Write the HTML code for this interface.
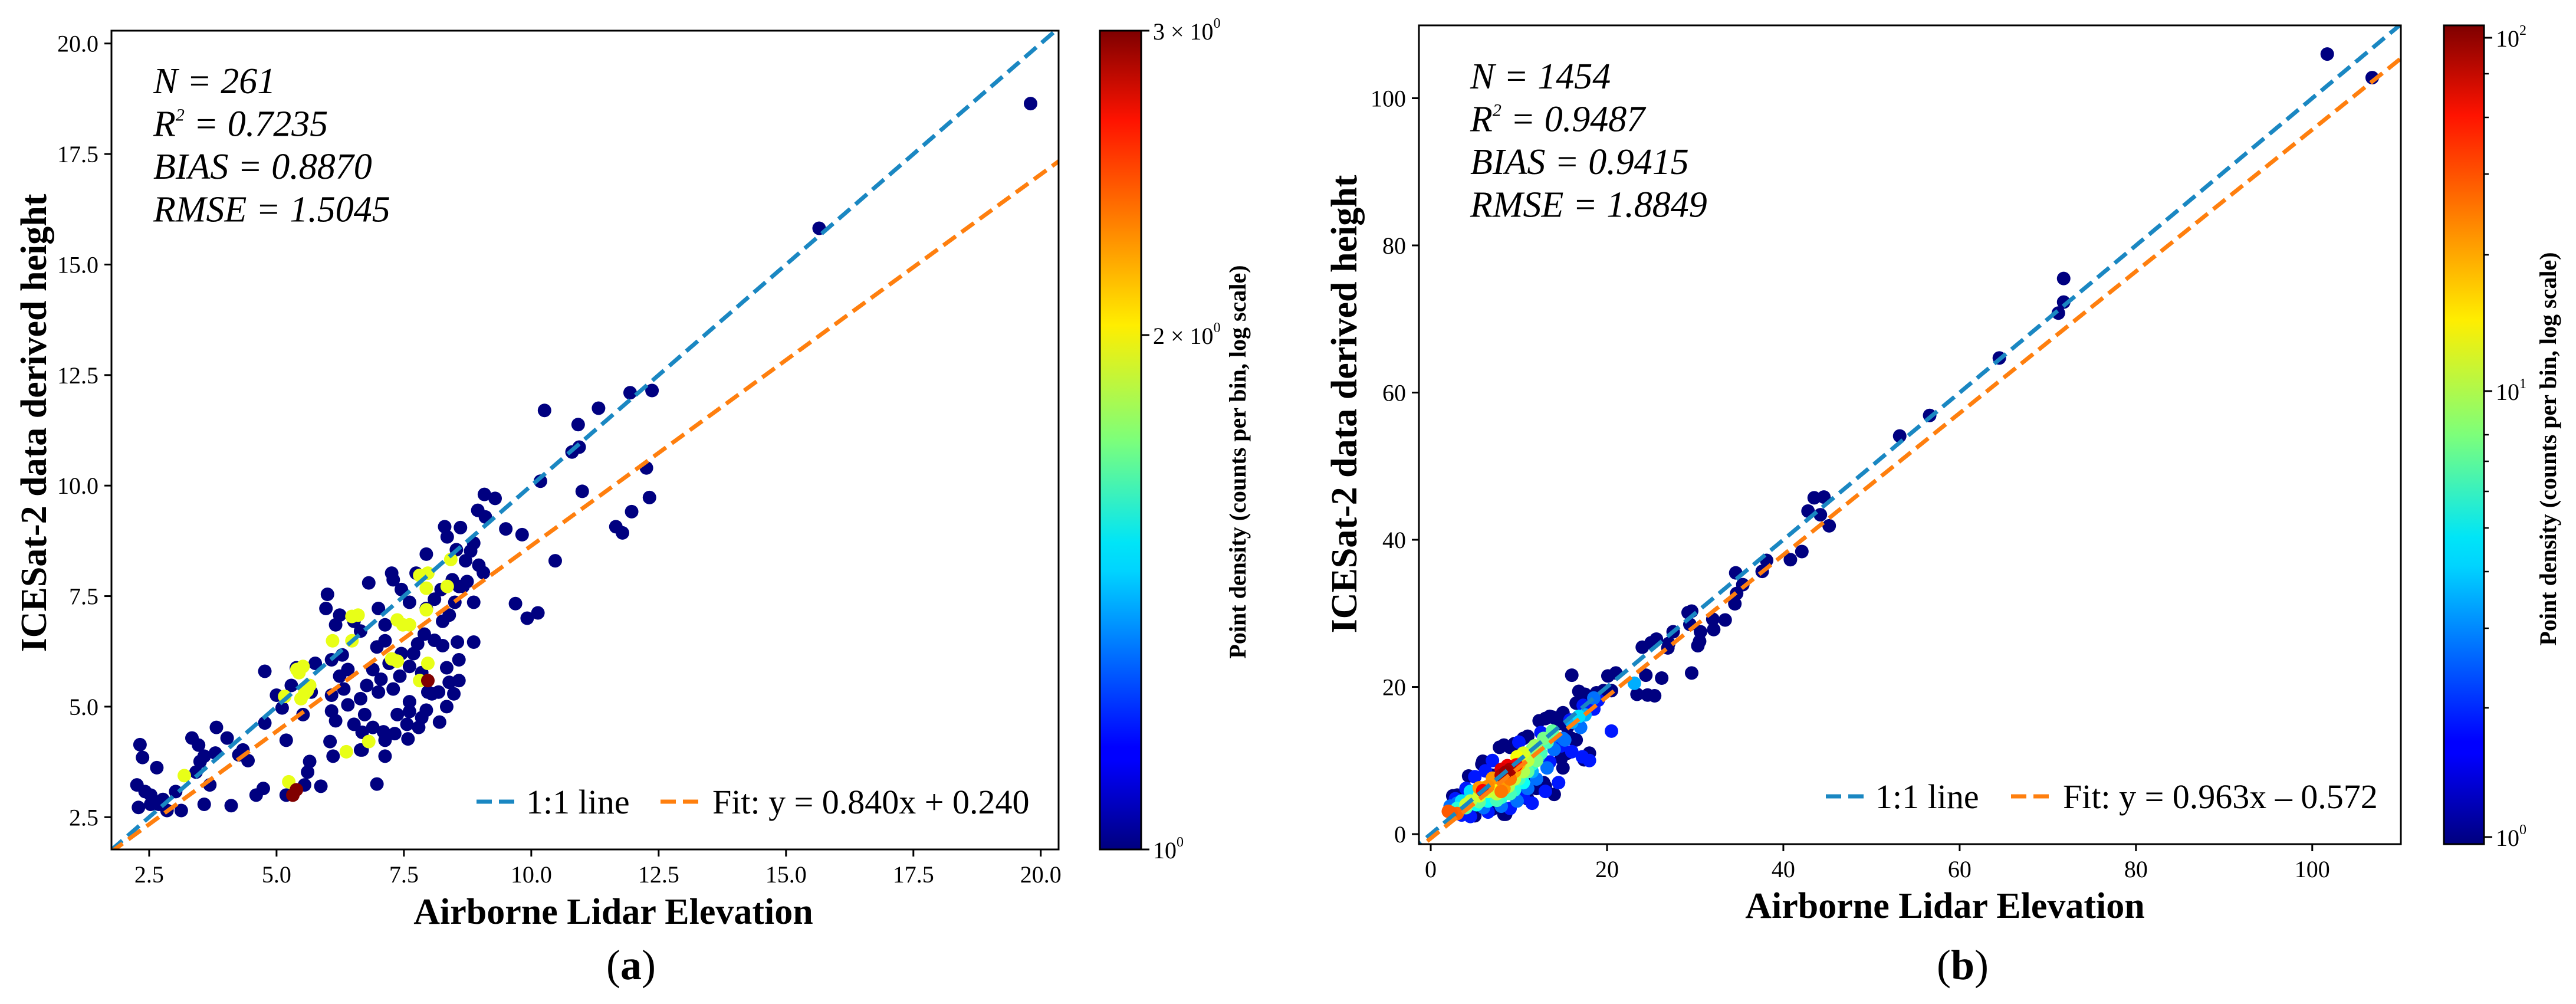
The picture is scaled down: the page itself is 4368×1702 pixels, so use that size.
<!DOCTYPE html>
<html><head><meta charset="utf-8">
<style>
html,body{margin:0;padding:0;background:#fff;width:4368px;height:1702px;overflow:hidden;}
svg{display:block;position:absolute;left:0;top:0;}
text{font-family:"Liberation Serif",serif;fill:#000;}
</style></head>
<body>
<svg id="fig" width="4368" height="1702" viewBox="0 0 4368 1702" xmlns="http://www.w3.org/2000/svg">
<defs>
<linearGradient id="jet" x1="0" y1="1" x2="0" y2="0">
<stop offset="0" stop-color="#00007f"/><stop offset="0.11" stop-color="#0000ff"/><stop offset="0.125" stop-color="#0000ff"/>
<stop offset="0.34" stop-color="#00d4ff"/><stop offset="0.375" stop-color="#00e5f7"/><stop offset="0.5" stop-color="#7dff7a"/>
<stop offset="0.64" stop-color="#ffee00"/><stop offset="0.89" stop-color="#ff1300"/><stop offset="1" stop-color="#7f0000"/>
</linearGradient>
<clipPath id="clipA"><rect x="189" y="52" width="1606" height="1388"/></clipPath>
<clipPath id="clipB"><rect x="2406" y="43" width="1665" height="1388"/></clipPath>
</defs>
</svg>
<script>
// ---- Panel (a) data ----
const aX=[19.8,15.65,12.37,11.94,11.32,10.26,10.92,10.94,10.8,10.18,11.0,12.26,12.32,11.97,11.66,11.79,10.47,9.92,10.13,9.69,9.82,9.5,9.08,9.29,8.95,9.1,8.87,8.3,8.35,8.61,8.71,8.97,9.06,8.74,8.87,8.87,8.55,8.26,8.58,8.34,8.58,8.39,8.48,8.05,8.34,8.2,7.94,7.61,7.56,7.79,7.58,7.32,7.1,6.68,7.13,6.68,6.11,6.05,5.65,5.61,5.55,5.87,5.19,5.19,4.77,4.77,4.74,4.6,4.11,3.58,3.13,3.82,3.34,3.47,3.58,3.8,4.03,4.34,4.44,4.26,3.69,3.42,3.5,2.65,2.32,2.37,2.26,2.42,2.29,2.53,2.69,2.85,2.53,2.77,3.02,6.97,5.39,5.0,5.29,5.11,5.52,5.68,5.76,6.08,6.08,6.16,6.32,6.4,6.52,6.73,6.4,6.29,6.08,6.24,6.65,6.77,6.89,7.0,7.05,7.21,7.29,7.42,7.61,7.69,7.85,7.9,7.77,8.1,7.97,8.18,7.45,7.13,6.97,6.65,6.52,6.24,6.16,5.97,6.0,6.81,7.0,7.13,7.29,7.26,7.45,7.61,7.94,8.1,8.23,8.45,8.66,8.26,8.39,7.94,7.74,8.53,8.81,8.5,8.58,6.65,7.13,6.89,7.37,7.61,7.85,
8.42,7.81,7.97,7.94,8.35,7.94,7.37,7.48,7.61,6.6,6.48,6.1,6.48,7.26,7.37,7.97,7.81,5.4,5.52,5.44,5.65,5.6,5.16,5.48,5.55,6.81,6.37,5.24,3.19,
7.97,5.32,5.39];
const aY=[18.64,15.82,12.15,12.1,11.75,11.7,11.38,10.87,10.76,10.1,9.87,10.4,9.73,9.41,9.07,8.93,8.3,7.0,7.12,7.33,8.89,9.02,9.8,9.71,9.44,9.29,8.7,9.07,8.84,9.05,8.3,8.2,8.03,7.83,7.36,6.46,6.46,6.38,6.06,5.88,5.59,5.55,5.29,5.29,5.0,4.65,4.92,5.11,4.6,4.53,4.27,4.39,4.43,4.42,4.24,4.02,3.88,4.21,3.76,3.52,3.23,3.2,3.0,4.24,4.63,5.8,3.15,3.0,2.76,2.79,2.65,4.53,4.29,4.13,3.88,3.95,4.29,4.02,3.78,3.91,3.23,3.52,3.76,3.62,4.14,3.85,3.23,3.08,2.72,2.79,2.79,2.65,3.0,2.9,3.08,3.25,5.88,5.26,5.48,4.97,4.82,5.33,5.98,5.26,4.9,4.68,5.4,5.04,4.6,4.82,5.84,6.17,6.06,5.69,5.18,5.48,5.84,5.33,5.62,5.98,5.4,5.69,5.91,6.2,5.77,6.64,6.42,6.5,5.33,5.33,6.2,6.49,6.35,6.71,6.93,7.07,6.85,7.22,7.54,7.8,7.22,6.85,7.87,8.02,7.65,7.36,7.22,7.43,7.65,7.87,7.72,6.93,7.07,8.45,8.02,8.55,8.52,7.36,7.72,4.02,3.88,4.53,4.82,4.89,4.75,
8.33,7.97,8.02,7.68,7.72,7.19,6.96,6.85,6.85,7.07,7.04,6.49,6.49,6.08,6.03,5.98,5.59,5.84,5.91,5.77,5.48,5.36,5.23,5.18,5.3,4.21,3.98,3.3,3.44,
5.59,3.0,3.12];
const aD=[1,1,1,1,1,1,1,1,1,1,1,1,1,1,1,1,1,1,1,1,1,1,1,1,1,1,1,1,1,1,1,1,1,1,1,1,1,1,1,1,1,1,1,1,1,1,1,1,1,1,1,1,1,1,1,1,1,1,1,1,1,1,1,1,1,1,1,1,1,1,1,1,1,1,1,1,1,1,1,1,1,1,1,1,1,1,1,1,1,1,1,1,1,1,1,1,1,1,1,1,1,1,1,1,1,1,1,1,1,1,1,1,1,1,1,1,1,1,1,1,1,1,1,1,1,1,1,1,1,1,1,1,1,1,1,1,1,1,1,1,1,1,1,1,1,1,1,1,1,1,1,1,1,1,1,1,1,1,1,1,1,1,1,1,1,
2,2,2,2,2,2,2,2,2,2,2,2,2,2,2,2,2,2,2,2,2,2,2,2,2,2,2,2,2,
3,3,3];
const aXTicks=[2.5,5.0,7.5,10.0,12.5,15.0,17.5,20.0];
const aYTicks=[2.5,5.0,7.5,10.0,12.5,15.0,17.5,20.0];
const aFit=[0.840,0.240];
const aStats=["N = 261","= 0.7235","BIAS = 0.8870","RMSE = 1.5045"];

// ---- Panel (b) data ----
const bX=[101.7,106.8,71.8,71.8,71.2,64.5,56.6,53.2,43.5,44.6,42.8,44.2,45.2,42.1,40.8,38.1,37.6,35.4,34.6,34.5,34.7,33.4,32.1,32.0,30.5,29.6,29.2,30.3,29.6,29.4,30.6,27.5,27.0,26.9,25.6,25.0,24.0,26.2,24.4,23.4,24.6,25.4,21.0,20.1,20.5,19.6,18.8,16.0,17.5,16.8,16.5,15.0,14.4,13.5,18.0,17.4,14.0,8.3,7.0,11.5,
2.5,3.0,4.3,5.8,5.9,7.8,8.3,9.0,9.5,10.5,11.0,12.3,13.0,13.8,14.5,8.5,7.0,11.0,13.0,14.0,15.0,15.5,14.8,12.8,10.5,5.0,16.5,16.0,15.5,12.0,
2.8,4.0,5.0,6.2,7.0,10.0,12.5,15.8,17.3,18.5,19.0,20.5,18.0,17.2,16.0,14.5,13.0,11.5,10.5,9.0,6.5,4.5,3.5,14.8,13.5,
3.0,2.2,15.0,16.0,17.5,18.5,14.0,13.2,12.0,11.0,9.8,8.0,6.0,13.8,12.2,16.8,17.0,15.2,10.0,11.5,23.1,
3.5,4.5,5.2,6.5,8.0,9.5,10.5,11.5,12.5,13.2,13.8,12.8,11.5,10.0,9.0,7.5,5.5,4.0,11.0,12.0,10.5,11.8,3.0,
4.5,5.5,6.5,7.5,8.8,9.5,10.5,11.0,10.5,9.8,7.0,6.0,4.0,8.5,
2.3,3.0,2.0,8.3,8.0,7.0,9.5,10.0,6.5,5.5,9.0,
5.9,9.7,8.0,8.7,8.5,8.0,9.0];
const bY=[106,102.8,75.5,72.3,70.8,64.7,56.9,54.1,45.7,45.8,43.9,43.4,41.9,38.4,37.3,37.2,35.7,33.9,35.5,31.3,32.7,29.1,27.8,29.2,26.2,30.3,30.1,25.6,21.9,28.5,27.5,27.5,25.9,25.3,26.5,26.0,25.4,21.2,21.6,19.0,18.9,18.8,21.9,21.5,19.5,19.5,19.2,21.6,19.0,19.4,17.8,16.5,15.8,16.0,11.0,10.1,5.4,2.7,8.0,8.0,
5.2,5.3,7.9,9.5,9.9,11.8,12.1,11.8,12.3,13.0,13.3,15.4,15.7,15.9,15.0,2.7,3.4,4.8,6.5,5.4,9.0,11.0,10.3,7.0,5.5,2.5,12.8,13.0,14.5,6.2,
4.8,6.2,7.8,8.6,10.0,12.5,13.8,15.5,17.5,17.0,18.2,14.0,10.0,10.5,11.2,7.0,5.8,4.2,5.0,3.5,3.0,2.4,2.6,12.0,9.8,
4.2,3.8,13.0,15.2,16.2,18.5,11.5,9.0,7.5,6.2,4.5,3.8,3.6,13.2,10.5,16.0,14.5,12.8,8.5,8.5,20.5,
4.5,5.8,4.0,4.5,5.0,6.0,7.0,9.5,11.0,12.5,14.0,13.0,11.5,7.5,5.5,4.6,4.4,3.6,8.5,10.0,9.8,12.0,3.5,
4.5,5.2,5.8,5.5,6.5,7.5,8.5,10.0,11.0,10.5,7.0,6.3,4.0,7.2,
2.9,2.8,3.1,6.2,5.8,7.6,8.5,9.5,6.5,6.3,7.5,
5.9,9.4,8.8,9.3,8.4,8.0,8.8];
const bD=[1,1,1,1,1,1,1,1,1,1,1,1,1,1,1,1,1,1,1,1,1,1,1,1,1,1,1,1,1,1,1,1,1,1,1,1,1,1,1,1,1,1,1,1,1,1,1,1,1,1,1,1,1,1,1,1,1,1,1,1,
1,1,1,1,1,1,1,1,1,1,1,1,1,1,1,1,1,1,1,1,1,1,1,1,1,1,1,1,1,1,
2,2,2,2,2,2,2,2,2,2,2,2,2,2,2,2,2,2,2,2,2,2,2,2,2,
3,3,3,4,4,3,3,3,3,3,3,3,3,3,4,5,3,3,3,4,4,
5,5,6,6,7,7,6,7,8,8,9,10,10,8,8,8,9,9,9,10,11,12,7,
14,15,15,14,13,14,13,14,16,18,18,16,15,16,
40,38,40,30,35,30,28,25,32,30,35,
60,60,70,65,95,85,90];
const bXTicks=[0,20,40,60,80,100];
const bYTicks=[0,20,40,60,80,100];
const bFit=[0.963,-0.572];
const bStats=["N = 1454","= 0.9487","BIAS = 0.9415","RMSE = 1.8849"];

const NS="http://www.w3.org/2000/svg";
const svg=document.getElementById('fig');
function mk(tag,attrs,parent){const e=document.createElementNS(NS,tag);for(const k in attrs)e.setAttribute(k,attrs[k]);(parent||svg).appendChild(e);return e;}
function jet(t){t=Math.max(0,Math.min(1,t));const c=v=>Math.round(255*Math.max(0,Math.min(1,v)));
 return `rgb(${c(1.5-Math.abs(4*t-3))},${c(1.5-Math.abs(4*t-2))},${c(1.5-Math.abs(4*t-1))})`;}

function panel(P){
 const g=mk('g',{});
 
 
 const sx=v=>P.L+(v-P.x0)/(P.x1-P.x0)*(P.R-P.L);
 const sy=v=>P.B-(v-P.y0)/(P.y1-P.y0)*(P.B-P.T);
 const pg=mk('g',{'clip-path':`url(#${P.clip})`},g);
 
 
 const idx=P.X.map((_,i)=>i).sort((a,b)=>P.D[a]-P.D[b]);
 idx.forEach(i=>{
  const c=mk('circle',{cx:sx(P.X[i]),cy:sy(P.Y[i]),r:11.5,fill:jet(P.cnorm(P.D[i]))},pg);
  
  
 });
 const lg=mk('g',{'clip-path':`url(#${P.clip})`},g);
 const xa=P.x0-5,xb=P.x1+5;
 const l1=mk('line',{x1:sx(xa),y1:sy(xa),x2:sx(xb),y2:sy(xb),stroke:'#1a87c2','stroke-width':7,'stroke-dasharray':'26,12'},lg);
 
 
 const l2=mk('line',{x1:sx(xa),y1:sy(P.F[0]*xa+P.F[1]),x2:sx(xb),y2:sy(P.F[0]*xb+P.F[1]),stroke:'#ff7f0e','stroke-width':7,'stroke-dasharray':'26,12'},lg);
 
 
 const fr=mk('rect',{x:P.L,y:P.T,width:P.R-P.L,height:P.B-P.T,fill:'none',stroke:'#000','stroke-width':3},g);
 
 
 P.xt.forEach(v=>{
  mk('line',{x1:sx(v),y1:P.B,x2:sx(v),y2:P.B+12,stroke:'#000','stroke-width':3},g);
  const t=mk('text',{x:sx(v),y:P.B+56,'text-anchor':'middle','font-size':40},g);
  t.textContent=P.fmt(v);
  
  
 });
 P.yt.forEach(v=>{
  mk('line',{x1:P.L-12,y1:sy(v),x2:P.L,y2:sy(v),stroke:'#000','stroke-width':3},g);
  const t=mk('text',{x:P.L-22,y:sy(v)+14,'text-anchor':'end','font-size':40},g);
  t.textContent=P.fmt(v);
  
  
 });
 P.stats.forEach((s,i)=>{
  const t=mk('text',{x:P.sx,y:P.sy+i*72.5,'font-size':62,'font-style':'italic'},g);
  if(i===1){const a=mk('tspan',{},t);a.textContent='R';const b=mk('tspan',{dy:-26,'font-size':30},t);b.textContent='2';const c=mk('tspan',{dy:26},t);c.textContent=' '+s;}
  else t.textContent=s;
  
  
 });
 const leg=mk('g',{},g);
 
 
 mk('line',{x1:P.lg[0],y1:P.ly,x2:P.lg[0]+68,y2:P.ly,stroke:'#1a87c2','stroke-width':7,'stroke-dasharray':'26,12'},leg);
 const t1=mk('text',{x:P.lg[0]+84,y:P.ly+20,'font-size':58},leg);t1.textContent='1:1 line';
 
 
 mk('line',{x1:P.lg[1],y1:P.ly,x2:P.lg[1]+68,y2:P.ly,stroke:'#ff7f0e','stroke-width':7,'stroke-dasharray':'26,12'},leg);
 const t2=mk('text',{x:P.lg[1]+88,y:P.ly+20,'font-size':58},leg);t2.textContent=P.fitLabel;
 
 
 const xt=mk('text',{x:P.xlx,y:P.xly,'text-anchor':'middle','font-size':62,'font-weight':'bold'},g);
 xt.textContent='Airborne Lidar Elevation';
 
 
 const yt=mk('text',{x:0,y:0,'text-anchor':'middle','font-size':62,'font-weight':'bold',transform:`translate(${P.ylx},${P.yly}) rotate(-90)`},g);
 yt.textContent='ICESat-2 data derived height';
 
 
 const cb=mk('rect',{x:P.cb[0],y:P.T,width:P.cb[1]-P.cb[0],height:P.B-P.T,fill:'url(#jet)',stroke:'#000','stroke-width':3},g);
 
 
 P.minor.forEach(y=>mk('line',{x1:P.cb[1],y1:y,x2:P.cb[1]+8,y2:y,stroke:'#000','stroke-width':2.5},g));
 P.cbt.forEach(o=>{
  mk('line',{x1:P.cb[1],y1:o.y,x2:P.cb[1]+14,y2:o.y,stroke:'#000','stroke-width':3},g);
  const t=mk('text',{x:P.cb[1]+20,y:o.y+15,'font-size':40},g);
  const a=mk('tspan',{},t);a.textContent=o.m;
  const b=mk('tspan',{dy:-20,'font-size':24},t);b.textContent=o.e;
  
  
 });
 const ct=mk('text',{x:0,y:0,'text-anchor':'middle','font-size':40,'font-weight':'bold',transform:`translate(${P.clx},${P.cly}) rotate(-90)`},g);
 ct.textContent='Point density (counts per bin, log scale)';
 
 
 const pl=mk('text',{x:P.xlx+30,y:1660,'text-anchor':'middle','font-size':72},g);
 const p1=mk('tspan',{},pl);p1.textContent='(';
 const p2=mk('tspan',{'font-weight':'bold'},pl);p2.textContent=P.letter;
 const p3=mk('tspan',{},pl);p3.textContent=')';
 
 
}

panel({name:'panel-a',X:aX,Y:aY,D:aD,F:aFit,xt:aXTicks,yt:aYTicks,stats:aStats,clip:'clipA',
 L:189,R:1795,T:52,B:1440,x0:1.76,x1:20.35,y0:1.77,y1:20.29,
 fmt:v=>v.toFixed(1),cnorm:d=>Math.pow(Math.log(d)/Math.log(3),1.1),
 sx:260,sy:158,lg:[808,1120],ly:1359,fitLabel:'Fit: y = 0.840x + 0.240',
 xlx:1040,xly:1566,ylx:78,yly:717,cb:[1865,1935],minor:[],
 cbt:[{y:52,m:'3 × 10',e:'0'},{y:568,m:'2 × 10',e:'0'},{y:1440,m:'10',e:'0'}],
 clx:2112,cly:783,letter:'a'});

panel({name:'panel-b',X:bX,Y:bY,D:bD,F:bFit,xt:bXTicks,yt:bYTicks,stats:bStats,clip:'clipB',
 L:2406,R:4071,T:43,B:1431,x0:-1.34,x1:110.05,y0:-1.36,y1:109.9,
 fmt:v=>String(v),cnorm:d=>Math.log10(d)/2.035,
 sx:2493,sy:150,lg:[3096,3410],ly:1350,fitLabel:'Fit: y = 0.963x \u2013 0.572',
 xlx:3298,xly:1556,ylx:2300,yly:685,cb:[4144,4212],minor:[125,199,295,432,737,782,833,895,969,1065,1200],
 cbt:[{y:64,m:'10',e:'2'},{y:663,m:'10',e:'1'},{y:1419,m:'10',e:'0'}],
 clx:4334,cly:761,letter:'b'});
</script>
</body></html>
